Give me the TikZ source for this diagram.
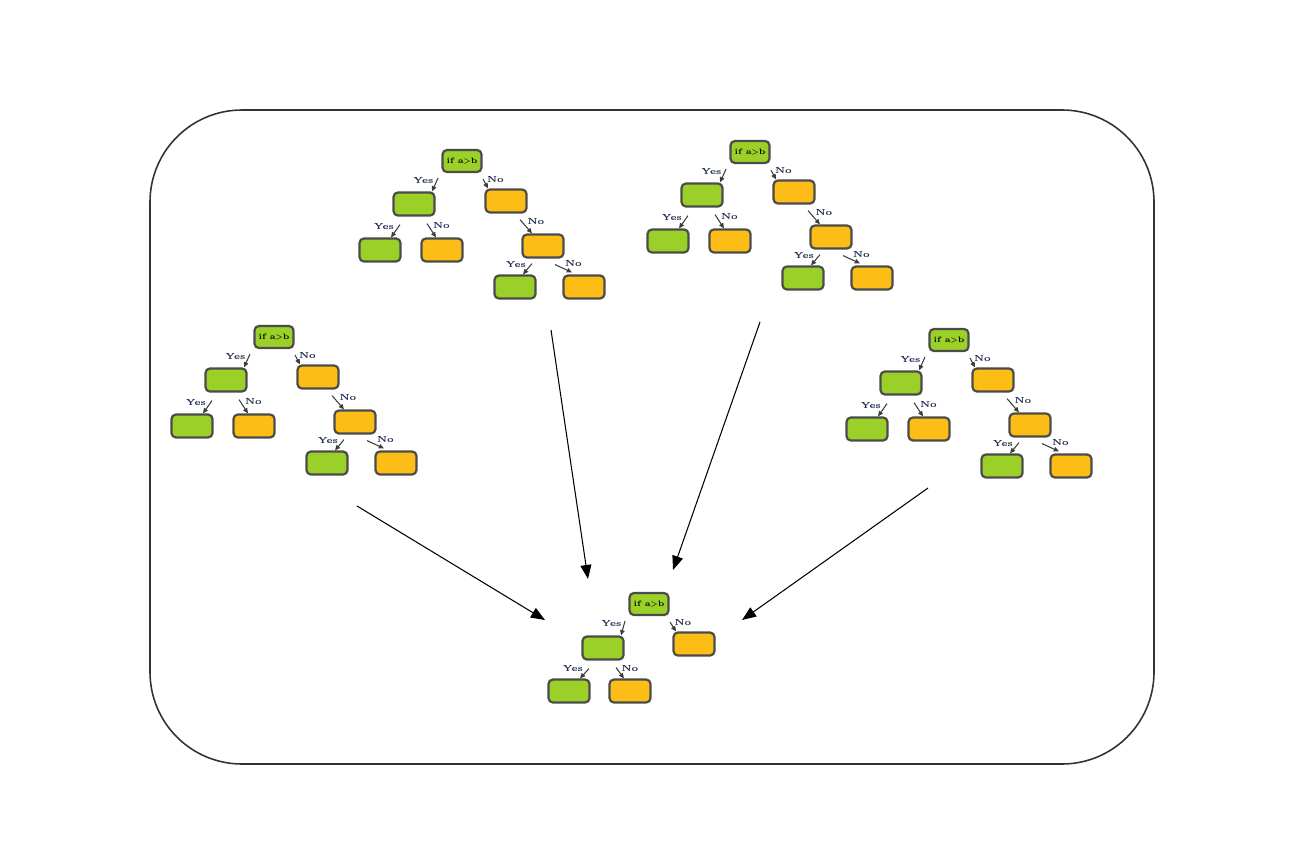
\documentclass[tikz,border=0pt]{standalone}
\usepackage{tikz}
\usepackage{xcolor}
\usetikzlibrary{
arrows.meta,
calc,
positioning
}
\definecolor{leafgreen}{RGB}{155,208,40}
\definecolor{leaforange}{RGB}{252,190,22}
\definecolor{boxline}{RGB}{75,75,75}
\definecolor{lbltext}{RGB}{30,40,80}

\begin{document}
\begin{tikzpicture}[
    x=0.02cm, y=-0.02cm,
    >={Triangle[length=3pt,width=2.6pt]},
    box/.style={draw=boxline,
      line width=1.25pt,
      rounded corners=2.5pt,
      inner sep=0pt,
      minimum width=0.82cm,
      minimum height=0.46cm},
    yesbox/.style={box, fill=leafgreen},
    nobox/.style={box, fill=leaforange},
    test/.style={box, fill=leafgreen, minimum width=0.78cm, minimum height=0.44cm,
      font=\fontsize{4.5}{5}\selectfont\bfseries},
    edge/.style={->, draw=boxline!80!black, line width=0.6pt},
    lbl/.style={midway, inner sep=0.6pt, text=lbltext, font=\fontsize{5}{6}\selectfont\bfseries},
    vote/.style={-{Triangle[length=8pt,width=6.2pt]}, line width=0.6pt}
  ]
  \useasboundingbox (0,0) rectangle (1304,859);
  \draw[line width=0.9pt, draw=black!80, rounded corners=1.84cm] (150,110) rectangle (1154,764);

  % the four trees of the forest
  \foreach \n/\px/\py in {1/462/161, 2/750/152, 3/274/337, 4/949/340}{
    \node[test] (r\n) at (\px,\py) {if a>b};
    \node[yesbox] (y\n) at ($(r\n)+(-48,43)$) {};
    \node[nobox] (n\n) at ($(r\n)+(44,40)$) {};
    \node[yesbox] (yy\n) at ($(r\n)+(-82,89)$) {};
    \node[nobox] (yn\n) at ($(r\n)+(-20,89)$) {};
    \node[nobox] (nn\n) at ($(r\n)+(81,85)$) {};
    \node[yesbox] (nny\n) at ($(r\n)+(53,126)$) {};
    \node[nobox] (nnn\n) at ($(r\n)+(122,126)$) {};
    \draw[edge] ($(r\n.south)+(-24,5)$) -- node[lbl, above left] {Yes} ($(y\n.north)+(18,0)$);
    \draw[edge] ($(r\n.south)+(21,6)$) -- node[lbl, above right] {No} ($(n\n.north)+(-18,0)$);
    \draw[edge] ($(y\n.south)+(-14,8)$) -- node[lbl, above left] {Yes} ($(yy\n.north)+(11,0)$);
    \draw[edge] ($(y\n.south)+(13,7)$) -- node[lbl, above right] {No} ($(yn\n.north)+(-6,0)$);
    \draw[edge] ($(n\n.south)+(14,6)$) -- node[lbl, above right] {No} ($(nn\n.north)+(-11,0)$);
    \draw[edge] ($(nn\n.south)+(-11,5)$) -- node[lbl, above left] {Yes} ($(nny\n.north)+(8,0)$);
    \draw[edge] ($(nn\n.south)+(12,6)$) -- node[lbl, above right] {No} ($(nnn\n.north)+(-12,-2)$);
  }

  % the combined tree
  \node[test] (rF) at (649,604) {if a>b};
  \node[yesbox] (yF) at ($(rF)+(-46,44)$) {};
  \node[nobox] (nF) at ($(rF)+(45,40)$) {};
  \node[yesbox] (yyF) at ($(rF)+(-80,87)$) {};
  \node[nobox] (ynF) at ($(rF)+(-19,87)$) {};
  \draw[edge] ($(rF.south)+(-24,5)$) -- node[lbl, above left] {Yes} ($(yF.north)+(18,0)$);
  \draw[edge] ($(rF.south)+(21,6)$) -- node[lbl, above right] {No} ($(nF.north)+(-18,0)$);
  \draw[edge] ($(yF.south)+(-14,8)$) -- node[lbl, above left] {Yes} ($(yyF.north)+(11,0)$);
  \draw[edge] ($(yF.south)+(13,7)$) -- node[lbl, above right] {No} ($(ynF.north)+(-6,0)$);

  \coordinate (from1) at (551,330);
  \coordinate (from2) at (760,322);
  \coordinate (from3) at (357,506);
  \coordinate (from4) at (928,488);
  \coordinate (to1) at (588,579);
  \coordinate (to2) at (673,570);
  \coordinate (to3) at (545,620);
  \coordinate (to4) at (742,620);

  \draw[vote] (from1) to (to1);
  \draw[vote] (from2) to (to2);
  \draw[vote] (from3) to (to3);
  \draw[vote] (from4) to (to4);
\end{tikzpicture}
\end{document}
